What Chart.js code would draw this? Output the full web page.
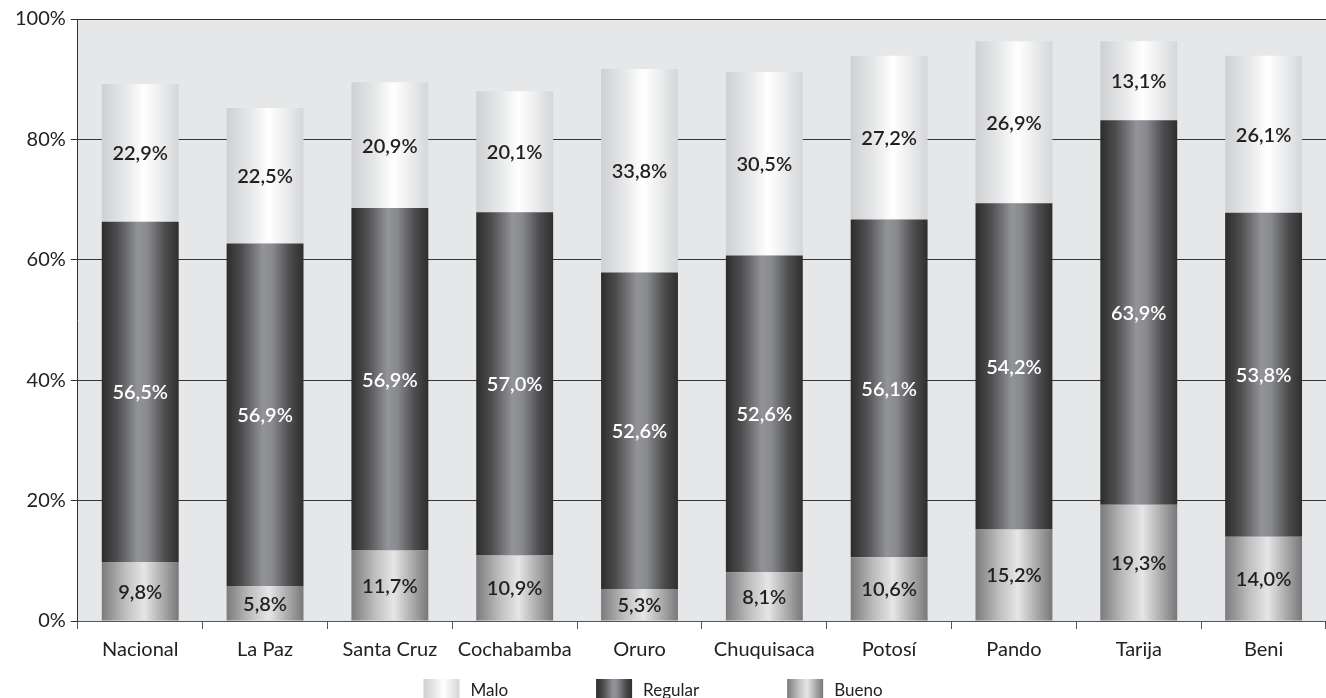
<!DOCTYPE html>
<html lang="es">
<head>
  <meta charset="UTF-8" />
  <title>Estado por departamento</title>
  <script src="https://cdn.jsdelivr.net/npm/chart.js"></script>
  <style>
    html, body { margin: 0; padding: 0; background: #fff; }
    #wrap { width: 1326px; height: 698px; position: relative; }
  </style>
</head>
<body>
  <div id="wrap"><canvas id="chart"></canvas></div>

  <script>
    // Datos
    const categorias = ['Nacional', 'La Paz', 'Santa Cruz', 'Cochabamba', 'Oruro', 'Chuquisaca', 'Potosí', 'Pando', 'Tarija', 'Beni'];
    const bueno   = [9.8, 5.8, 11.7, 10.9, 5.3, 8.1, 10.6, 15.2, 19.3, 14.0];
    const regular = [56.5, 56.9, 56.9, 57.0, 52.6, 52.6, 56.1, 54.2, 63.9, 53.8];
    const malo    = [22.9, 22.5, 20.9, 20.1, 33.8, 30.5, 27.2, 26.9, 13.1, 26.1];
    const yTicks  = [0, 20, 40, 60, 80, 100];

    const CAT_PCT = 0.77;
    const BAR_PCT = 0.8;
    const FONT = 'Lato, "Open Sans", sans-serif';

    // degradados horizontales de las barras
    const stopsMalo = [[0, '#cfd0d2'], [0.3, '#e6e7e8'], [0.55, '#ffffff'], [0.78, '#eaebec'], [1, '#d5d6d8']];
    const stopsRegular = [[0, '#2c2c2c'], [0.2, '#4e4e50'], [0.47, '#939498'], [0.6, '#88898d'], [0.82, '#4d4d4f'], [1, '#2e2e2e']];
    const stopsBueno = [[0, '#7b7b7d'], [0.3, '#bdbdbe'], [0.55, '#e6e6e6'], [0.75, '#b5b5b6'], [1, '#78787a']];

    function makeGrad(ctx, x0, x1, stops) {
      const g = ctx.createLinearGradient(x0, 0, x1, 0);
      stops.forEach(s => g.addColorStop(s[0], s[1]));
      return g;
    }

    function barGradient(stops) {
      return function (c) {
        const chart = c.chart;
        const sx = chart.scales && chart.scales.x;
        if (!sx || c.dataIndex === undefined || !isFinite(sx.width)) return stops[Math.floor(stops.length / 2)][1];
        const cx = sx.getPixelForValue(c.dataIndex);
        const half = sx.width / categorias.length * CAT_PCT * BAR_PCT / 2;
        return makeGrad(chart.ctx, cx - half, cx + half, stops);
      };
    }

    const fmt = v => v.toFixed(1).replace('.', ',') + '%';

    // fondo gris del área de trazado
    const fondoPlugin = {
      id: 'fondo',
      beforeDraw(chart) {
        const { ctx, chartArea: a } = chart;
        ctx.save();
        ctx.fillStyle = '#e6e7e9';
        ctx.fillRect(a.left, a.top, a.right - a.left, a.bottom - a.top);
        ctx.restore();
      }
    };

    // etiquetas de valores dentro de cada segmento
    const etiquetasPlugin = {
      id: 'etiquetas',
      afterDatasetsDraw(chart) {
        const ctx = chart.ctx;
        ctx.save();
        ctx.font = '600 20px ' + FONT;
        ctx.textAlign = 'center';
        ctx.textBaseline = 'middle';
        chart.data.datasets.forEach((ds, di) => {
          const meta = chart.getDatasetMeta(di);
          if (meta.hidden) return;
          meta.data.forEach((el, i) => {
            const p = el.getProps(['x', 'y', 'base'], true);
            ctx.fillStyle = ds.labelColor;
            ctx.fillText(fmt(ds.data[i]), p.x, (p.y + p.base) / 2 + 1);
          });
        });
        ctx.restore();
      }
    };

    // leyenda propia (orden Malo, Regular, Bueno)
    const leyendaPlugin = {
      id: 'leyenda',
      afterDraw(chart) {
        const ctx = chart.ctx;
        const boxW = 36, boxH = 19, gap = 11, spacing = 88;
        const items = chart.data.datasets.slice().reverse();
        ctx.save();
        ctx.font = '17px ' + FONT;
        const widths = items.map(ds => boxW + gap + ctx.measureText(ds.label).width);
        const total = widths.reduce((a, b) => a + b, 0) + spacing * (items.length - 1);
        let x = chart.width / 2 - 10 - total / 2;
        const top = chart.height - boxH;
        items.forEach((ds, i) => {
          ctx.fillStyle = makeGrad(ctx, x, x + boxW, ds.gradStops);
          ctx.fillRect(x, top, boxW, boxH);
          ctx.fillStyle = '#222';
          ctx.textAlign = 'left';
          ctx.textBaseline = 'middle';
          ctx.fillText(ds.label, x + boxW + gap, top + boxH / 2 + 2);
          x += widths[i] + spacing;
        });
        ctx.restore();
      }
    };

    Chart.defaults.font.family = FONT;
    Chart.defaults.color = '#222';

    new Chart(document.getElementById('chart'), {
      type: 'bar',
      data: {
        labels: categorias,
        datasets: [
          { label: 'Bueno', data: bueno, backgroundColor: barGradient(stopsBueno), gradStops: stopsBueno, labelColor: '#231f20' },
          { label: 'Regular', data: regular, backgroundColor: barGradient(stopsRegular), gradStops: stopsRegular, labelColor: '#ffffff' },
          { label: 'Malo', data: malo, backgroundColor: barGradient(stopsMalo), gradStops: stopsMalo, labelColor: '#231f20' }
        ]
      },
      options: {
        responsive: true,
        maintainAspectRatio: false,
        animation: false,
        datasets: { bar: { categoryPercentage: CAT_PCT, barPercentage: BAR_PCT, borderWidth: 0 } },
        layout: { padding: { top: 19, right: 0, left: 10, bottom: 27 } },
        scales: {
          x: {
            stacked: true,
            grid: { drawOnChartArea: false, tickLength: 8, color: '#555', offset: true },
            border: { color: '#555', width: 1 },
            ticks: { font: { size: 20 }, color: '#222', padding: 9 }
          },
          y: {
            stacked: true,
            min: 0,
            max: 100,
            afterBuildTicks: axis => { axis.ticks = yTicks.map(v => ({ value: v })); },
            grid: { color: '#333', lineWidth: 1, tickLength: 7 },
            border: { color: '#333', width: 1 },
            ticks: { font: { size: 20 }, color: '#222', padding: 5, callback: v => v + '%' }
          }
        },
        plugins: {
          legend: { display: false },
          tooltip: { enabled: false }
        }
      },
      plugins: [fondoPlugin, etiquetasPlugin, leyendaPlugin]
    });
  </script>
</body>
</html>
